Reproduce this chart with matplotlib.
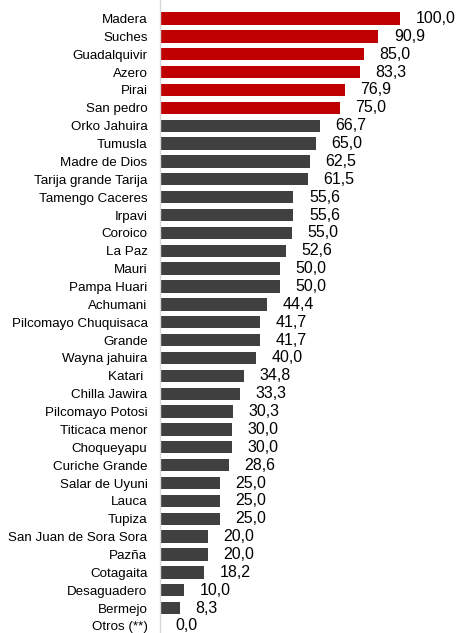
import matplotlib.pyplot as plt
import numpy as np

plt.rcParams['font.family'] = ['Liberation Sans', 'DejaVu Sans']

names = ["Madera", "Suches", "Guadalquivir", "Azero", "Pirai", "San pedro",
         "Orko Jahuira", "Tumusla", "Madre de Dios", "Tarija grande Tarija",
         "Tamengo Caceres", "Irpavi", "Coroico", "La Paz", "Mauri", "Pampa Huari",
         "Achumani", "Pilcomayo Chuquisaca", "Grande", "Wayna jahuira", "Katari ",
         "Chilla Jawira", "Pilcomayo Potosi", "Titicaca menor", "Choqueyapu",
         "Curiche Grande", "Salar de Uyuni", "Lauca", "Tupiza",
         "San Juan de Sora Sora", "Pazña", "Cotagaita", "Desaguadero", "Bermejo",
         "Otros (**)"]
values = [100.0, 90.9, 85.0, 83.3, 76.9, 75.0, 66.7, 65.0, 62.5, 61.5,
          55.6, 55.6, 55.0, 52.6, 50.0, 50.0, 44.4, 41.7, 41.7, 40.0,
          34.8, 33.3, 30.3, 30.0, 30.0, 28.6, 25.0, 25.0, 25.0, 20.0,
          20.0, 18.2, 10.0, 8.3, 0.0]
n_red = 6

fig = plt.figure(figsize=(4.58, 6.33), dpi=100)
ax = fig.add_axes([160/458, 0, 298/458, 1])

y = np.arange(len(names))
colors = ['#C00000' if i < n_red else '#404040' for i in range(len(names))]
ax.barh(y, values, height=0.69, color=colors)

for yi, v in zip(y, values):
    ax.text(v + 6.5, yi, f"{v:.1f}".replace('.', ','), va='center', ha='left',
            fontsize=11.5, color='#000000')

# rows ~17.9px apart, first center at 18px from top
top, bot = 18.5, 626
step = (bot - top) / (len(names) - 1)
ax.set_ylim((633 - top) / step, -top / step)
ax.set_xlim(0, 298 / 2.4)
ax.set_yticks(y)
ax.set_yticklabels(names, fontsize=9.6)
ax.tick_params(axis='y', length=0, pad=9)
ax.set_xticks([])
for s in ['top', 'right', 'bottom']:
    ax.spines[s].set_visible(False)
ax.spines['left'].set_color('#D9D9D9')
ax.spines['left'].set_linewidth(1.0)

fig.savefig("out.png", dpi=100)
